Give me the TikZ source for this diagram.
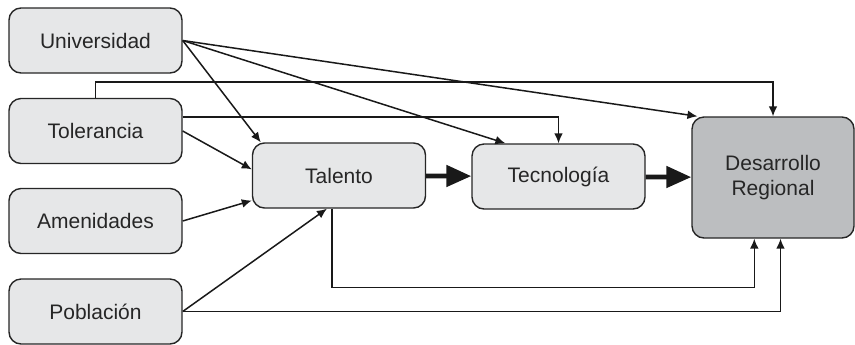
\documentclass[tikz,border=0pt]{standalone}
\usepackage{fontspec}
\setmainfont{Liberation Sans}
\usetikzlibrary{arrows.meta}
\definecolor{boxgray}{HTML}{E6E7E8}
\definecolor{regiongray}{HTML}{BCBEC0}
\begin{document}
\begin{tikzpicture}[x=0.5pt, y=-0.5pt,
	box/.style={draw=black!85, line width=0.7pt, rounded corners=6pt, fill=boxgray,
		minimum width=86.5pt, minimum height=32.5pt, inner sep=0pt,
		font=\fontsize{10.5}{12.5}\selectfont, text=black!85},
	link/.style={line width=0.75pt, draw=black!90, -{Latex[length=5pt,width=4.4pt]}},
	flow/.style={line width=2.4pt, draw=black!90, -{Triangle[length=12.5pt,width=10.5pt]}}]
				\useasboundingbox (0,0) rectangle (855,344);
				
				% factors
				\node[box] at (95.5,40.5) (uni){Universidad};
				\node[box] at (95.5,131) (tol){Tolerancia};
				\node[box] at (95.5,221) (ame){Amenidades};
				\node[box] at (95.5,311.5) (pob){Población};
				
				% chain
				\node[box] at (339,175.5) (tal){Talento};
				\node[box] at (558.5,176.5) (tec){Tecnología};
				\node[box, fill=regiongray, minimum width=81pt, minimum height=60.5pt,
					align=center] at (773,177.5) (des){Desarrollo\\Regional};
				
				\draw[flow] (tal) -- (tec);
				\draw[flow] (tec) -- (des);
				
				% Universidad
				\draw[link] (uni.east) -- (tal.157);
				\draw[link] (uni.east) -- (tec.148);
				\draw[link] (uni.east) -- (des.141);
				
				% Tolerancia
				\draw[link] (tol.north) -- ++(0,-16) -| (des.north);
				\draw[link] (tol.9) -| (tec.north);
				\draw[link] (tol.east) -- (tal.176);
				
				% Amenidades
				\draw[link] (ame.east) -- (tal.196);
				
				% Poblacion
				\draw[link] (pob.east) -- (tal.250);
				\draw[link] (pob.east) -| (des.277);
				
				% Talento
				\draw[link] (tal.258) -- ++(0,79) -| (des.253);
			\end{tikzpicture}
\end{document}
